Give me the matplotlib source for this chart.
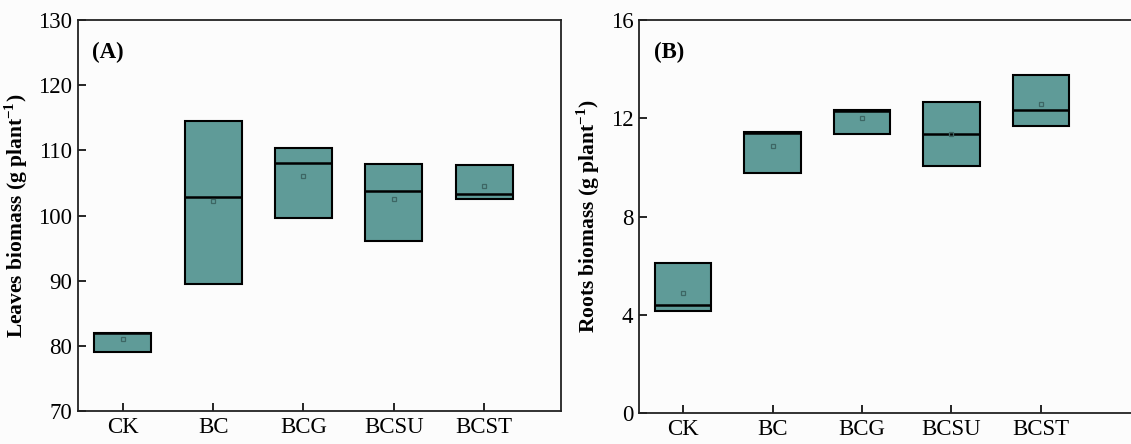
import numpy as np
import matplotlib
matplotlib.use('Agg')
import matplotlib.pyplot as plt

plt.rcParams['font.family'] = 'Liberation Serif'
plt.rcParams['mathtext.fontset'] = 'custom'
plt.rcParams['mathtext.rm'] = 'Liberation Serif'
plt.rcParams['mathtext.bf'] = 'Liberation Serif:bold'

groups = ['CK', 'BC', 'BCG', 'BCSU', 'BCST']

# leaves biomass (panel A)
leaf_q1 = [79.1, 89.5, 99.6, 96.1, 102.5]
leaf_q3 = [82.0, 114.5, 110.4, 107.9, 107.7]
leaf_med = [81.9, 102.9, 108.1, 103.8, 103.3]
leaf_mean = [81.0, 102.3, 106.1, 102.6, 104.5]

# roots biomass (panel B)
root_q1 = [4.16, 9.78, 11.36, 10.07, 11.68]
root_q3 = [6.1, 11.43, 12.34, 12.65, 13.75]
root_med = [4.38, 11.4, 12.3, 11.35, 12.35]
root_mean = [4.88, 10.87, 12.0, 11.35, 12.6]

fill = '#5f9b98'
W, H = 1131, 444
fig = plt.figure(figsize=(W / 100, H / 100), dpi=100)
fig.patch.set_facecolor('#fcfcfc')

def panel(rect, q1, q3, med, mean, ylim, yticks, ylabel, tag, xmax):
    ax = fig.add_axes([rect[0] / W, 1 - rect[3] / H, (rect[2] - rect[0]) / W, (rect[3] - rect[1]) / H])
    ax.set_facecolor('#fcfcfc')
    x = np.arange(1, len(groups) + 1)
    q1 = np.array(q1)
    q3 = np.array(q3)
    ax.bar(x, q3 - q1, bottom=q1, width=0.63, color=fill, edgecolor='black', linewidth=1.5, zorder=2)
    ax.hlines(med, x - 0.315, x + 0.315, colors='black', linewidth=1.8, zorder=3)
    ax.plot(x, mean, 's', ms=3.5, mfc='none', mec='#3d6664', mew=0.9, zorder=4)
    ax.set_xlim(0.505, xmax)
    ax.set_ylim(*ylim)
    ax.set_yticks(yticks)
    ax.set_xticks(x)
    ax.set_xticklabels(groups)
    ax.tick_params(direction='in', length=6, width=1.2, labelsize=16.5, top=False, right=False, pad=4)
    for s in ax.spines.values():
        s.set_linewidth(1.3)
        s.set_color('#222222')
    ax.set_ylabel(ylabel, fontsize=15.5, fontweight='bold', labelpad=6)
    ax.text(0.03, 0.945, tag, transform=ax.transAxes, fontsize=16.5, fontweight='bold', va='top')
    return ax

panel((78, 20, 561, 411), leaf_q1, leaf_q3, leaf_med, leaf_mean, (70, 130),
      [70, 80, 90, 100, 110, 120, 130], r'Leaves biomass (g plant$^{\mathbf{-1}}$)', '(A)', 5.85)
panel((639, 20, 1140, 413), root_q1, root_q3, root_med, root_mean, (0, 16),
      [0, 4, 8, 12, 16], r'Roots biomass (g plant$^{\mathbf{-1}}$)', '(B)', 6.11)

fig.savefig('out.png', dpi=100, facecolor=fig.get_facecolor())
